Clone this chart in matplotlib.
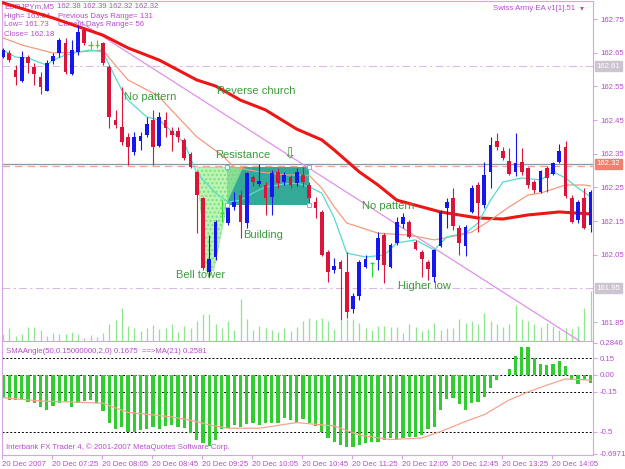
import numpy as np
import matplotlib
matplotlib.use('Agg')
import matplotlib.pyplot as plt
from matplotlib.patches import Polygon, Rectangle

plt.rcParams['font.family'] = ['Liberation Sans', 'DejaVu Sans']

# EURJPYm M5, 20 Dec 2007, bars from 06:45
opens = [162.637, 162.649, 162.599, 162.566, 162.637, 162.607, 162.578, 162.536, 162.625, 162.649,
         162.679, 162.587, 162.652, 162.717, 162.673, 162.673, 162.679, 162.607, 162.450, 162.429,
         162.400, 162.355, 162.388, 162.406, 162.450, 162.373, 162.450, 162.417, 162.417, 162.391,
         162.349, 162.296, 162.218, 161.999, 162.043, 162.174, 162.144, 162.192, 162.227, 162.144,
         162.281, 162.260, 162.257, 162.221, 162.296, 162.266, 162.281, 162.263, 162.287, 162.257,
         162.206, 162.177, 162.058, 162.004, 162.028, 161.999, 161.888, 161.927, 162.013, 162.025,
         162.034, 162.108, 162.013, 162.085, 162.141, 162.147, 162.088, 162.058, 162.028, 161.984,
         162.076, 162.189, 162.218, 162.129, 162.076, 162.177, 162.257, 162.198, 162.296, 162.388,
         162.358, 162.328, 162.296, 162.325, 162.307, 162.266, 162.236, 162.307, 162.290, 162.325,
         162.370, 162.218, 162.153, 162.218, 162.138]
highs = [162.664, 162.658, 162.613, 162.655, 162.643, 162.619, 162.593, 162.628, 162.649, 162.694,
         162.694, 162.688, 162.732, 162.726, 162.685, 162.688, 162.682, 162.613, 162.480, 162.548,
         162.411, 162.414, 162.414, 162.459, 162.480, 162.474, 162.474, 162.429, 162.429, 162.397,
         162.355, 162.299, 162.221, 162.108, 162.153, 162.212, 162.198, 162.236, 162.242, 162.296,
         162.287, 162.319, 162.266, 162.302, 162.307, 162.296, 162.287, 162.307, 162.310, 162.266,
         162.221, 162.183, 162.064, 162.040, 162.034, 162.058, 161.935, 162.034, 162.049, 162.028,
         162.117, 162.114, 162.085, 162.162, 162.174, 162.153, 162.094, 162.064, 162.034, 162.067,
         162.183, 162.218, 162.248, 162.138, 162.138, 162.257, 162.266, 162.325, 162.400, 162.411,
         162.370, 162.367, 162.411, 162.367, 162.310, 162.272, 162.302, 162.313, 162.325, 162.379,
         162.388, 162.227, 162.212, 162.248, 162.242]
lows = [162.634, 162.622, 162.554, 162.563, 162.590, 162.554, 162.527, 162.536, 162.616, 162.637,
        162.587, 162.584, 162.643, 162.673, 162.661, 162.664, 162.613, 162.426, 162.426, 162.376,
        162.316, 162.346, 162.361, 162.400, 162.316, 162.370, 162.400, 162.358, 162.385, 162.331,
        162.307, 162.114, 162.004, 161.984, 162.034, 162.147, 162.138, 162.183, 162.100, 162.129,
        162.254, 162.254, 162.168, 162.168, 162.248, 162.257, 162.248, 162.254, 162.251, 162.203,
        162.159, 162.046, 161.969, 161.996, 161.856, 161.862, 161.877, 161.915, 162.010, 161.984,
        162.004, 161.966, 162.010, 162.079, 162.129, 162.100, 162.064, 161.984, 161.975, 161.969,
        162.073, 162.129, 162.123, 162.049, 162.046, 162.174, 162.117, 162.189, 162.248, 162.361,
        162.331, 162.287, 162.284, 162.287, 162.248, 162.233, 162.233, 162.236, 162.287, 162.322,
        162.218, 162.144, 162.144, 162.126, 162.117]
closes = [162.658, 162.628, 162.578, 162.637, 162.619, 162.587, 162.548, 162.619, 162.640, 162.688,
          162.593, 162.658, 162.711, 162.679, 162.673, 162.673, 162.619, 162.459, 162.435, 162.385,
          162.370, 162.400, 162.403, 162.438, 162.370, 162.459, 162.426, 162.406, 162.400, 162.337,
          162.310, 162.227, 162.010, 162.037, 162.147, 162.174, 162.189, 162.206, 162.147, 162.293,
          162.266, 162.269, 162.218, 162.293, 162.263, 162.287, 162.257, 162.296, 162.266, 162.218,
          162.189, 162.049, 161.999, 162.016, 162.007, 161.880, 161.926, 162.028, 162.037, 162.025,
          162.100, 162.019, 162.079, 162.147, 162.162, 162.103, 162.067, 162.037, 162.007, 162.064,
          162.177, 162.206, 162.135, 162.085, 162.132, 162.248, 162.203, 162.287, 162.376, 162.370,
          162.337, 162.290, 162.322, 162.296, 162.257, 162.242, 162.299, 162.278, 162.322, 162.358,
          162.224, 162.147, 162.206, 162.129, 162.236]
volumes = [21, 39, 15, 21, 42, 42, 33, 15, 24, 21, 21, 27, 21, 9, 18, 12, 24, 51, 63, 99,
           45, 39, 30, 39, 48, 36, 39, 51, 27, 45, 39, 60, 81, 81, 51, 39, 60, 33, 126, 66,
           33, 45, 39, 33, 27, 39, 30, 42, 60, 69, 63, 69, 60, 36, 60, 66, 66, 54, 39, 33,
           45, 45, 42, 42, 24, 51, 42, 30, 36, 54, 33, 39, 39, 66, 54, 60, 51, 84, 60, 51,
           42, 51, 108, 66, 60, 51, 42, 54, 45, 33, 39, 36, 45, 99, 150]

# moving averages on the price chart
slow_x = [0, 8, 16, 20, 25, 31, 34, 38, 42, 47, 51, 53, 57, 60, 63, 67, 70, 73, 76, 80, 84, 89, 94]
slow_y = [162.798, 162.753, 162.702, 162.664, 162.628, 162.569, 162.551, 162.509, 162.480, 162.423,
          162.391, 162.361, 162.296, 162.257, 162.212, 162.192, 162.177, 162.168, 162.159, 162.156,
          162.168, 162.177, 162.171]
mid_x = [0, 3, 8, 12, 16, 17, 20, 24, 25, 31, 35, 37, 41, 45, 49, 51, 53, 55, 60, 65, 69, 73, 75,
         78, 81, 84, 86, 90, 93, 94]
mid_y = [162.694, 162.673, 162.649, 162.652, 162.658, 162.634, 162.569, 162.530, 162.518, 162.400,
         162.346, 162.310, 162.296, 162.287, 162.285, 162.248, 162.192, 162.144, 162.114, 162.108,
         162.094, 162.108, 162.117, 162.153, 162.192, 162.227, 162.233, 162.257, 162.257, 162.254]
fast_x = [0, 2, 4, 7, 8, 10, 12, 14, 16, 17, 19, 20, 23, 25, 29, 31, 34, 36, 38, 40, 42, 45, 47,
          49, 51, 53, 55, 58, 61, 63, 66, 69, 71, 74, 76, 78, 80, 83, 86, 88, 90, 92, 94]
fast_y = [162.658, 162.637, 162.634, 162.613, 162.628, 162.643, 162.652, 162.658, 162.652, 162.613,
          162.539, 162.509, 162.459, 162.450, 162.382, 162.293, 162.233, 162.206, 162.212, 162.233,
          162.251, 162.260, 162.263, 162.251, 162.233, 162.159, 162.055, 162.043, 162.049, 162.085,
          162.094, 162.064, 162.103, 162.114, 162.144, 162.212, 162.266, 162.278, 162.272, 162.296,
          162.278, 162.248, 162.222]
trend_x = [11.84, 94.5]
trend_y = [162.747, 161.767]

# SMAAngle indicator
sma_angle = [-0.20, -0.22, -0.22, -0.22, -0.24, -0.25, -0.28, -0.31, -0.27, -0.25,
             -0.24, -0.28, -0.25, -0.23, -0.22, -0.25, -0.32, -0.42, -0.48, -0.46,
             -0.50, -0.50, -0.49, -0.48, -0.46, -0.48, -0.45, -0.44, -0.46, -0.47,
             -0.51, -0.57, -0.60, -0.63, -0.57, -0.48, -0.47, -0.44, -0.46, -0.43,
             -0.42, -0.44, -0.42, -0.42, -0.42, -0.38, -0.40, -0.42, -0.39, -0.42,
             -0.45, -0.50, -0.56, -0.59, -0.62, -0.635, -0.635, -0.62, -0.60, -0.59,
             -0.59, -0.57, -0.56, -0.57, -0.56, -0.55, -0.55, -0.53, -0.48, -0.46,
             -0.31, -0.21, -0.20, -0.26, -0.31, -0.25, -0.24, -0.19, -0.115, -0.045,
             0.0, 0.05, 0.17, 0.245, 0.245, 0.15, 0.10, 0.09, 0.10, 0.12,
             0.08, -0.04, -0.08, -0.04, -0.07]
ind_ma_x = [0, 6, 12, 16, 20, 27, 30, 33, 36, 41, 47, 53, 57, 62, 67, 70, 74, 77, 81, 84, 87, 90, 94]
ind_ma_y = [-0.20, -0.23, -0.24, -0.25, -0.33, -0.37, -0.40, -0.44, -0.47, -0.47, -0.42, -0.45,
            -0.53, -0.57, -0.556, -0.50, -0.41, -0.35, -0.22, -0.15, -0.09, -0.035, -0.045]

price_ticks = [161.85, 162.05, 162.15, 162.25, 162.35, 162.45, 162.55, 162.65, 162.75]
marked_prices = [162.61, 162.32, 161.95]
ind_ticks = [0.2846, 0.15, 0.0, -0.15, -0.5, -0.6971]
ind_tick_labels = ['0.2846', '0.15', '0.00', '-0.15', '-0.5', '-0.6971']
time_labels = ['20 Dec 2007', '20 Dec 07:25', '20 Dec 08:05', '20 Dec 08:45', '20 Dec 09:25',
               '20 Dec 10:05', '20 Dec 10:45', '20 Dec 11:25', '20 Dec 12:05', '20 Dec 12:45',
               '20 Dec 13:25', '20 Dec 14:05']

frame = '#d8a4e4'
txt = '#b54ccb'
bull = '#1616f2'
bear = '#dc143c'
doji = '#2fd82f'
green_txt = '#3d9a3d'
fs = 5.6

fig = plt.figure(figsize=(6.25, 4.69), dpi=100)
axv = fig.add_axes([0.0032, 0.2729, 0.9456, 0.7249])
ax = fig.add_axes([0.0032, 0.2729, 0.9456, 0.7249], sharex=axv)
ax2 = fig.add_axes([0.0032, 0.0299, 0.9456, 0.2409], sharex=axv)
axv.set_zorder(0)
ax.set_zorder(1)
ax.patch.set_alpha(0)

idx = np.arange(len(opens))
o = np.array(opens); c = np.array(closes)
h = np.array(highs); l = np.array(lows)

# volume at the bottom of price chart
axv.vlines(idx, 0, volumes, color='#8fe68f', lw=0.9)
axv.set_ylim(0, 1020)
axv.axis('off')

# annotation boxes
ax.add_patch(Rectangle((35.84, 162.198), 48.96 - 35.84, 162.310 - 162.198,
                       facecolor='#35a997', edgecolor='none', zorder=1))
ax.add_patch(Polygon([(31.04, 162.310), (38.4, 162.310), (36.0, 162.212), (33.7, 162.002), (32.5, 162.002)],
                     closed=True, facecolor='#a6f29a', edgecolor='#6ed86e', lw=0.4,
                     hatch='....', alpha=0.75, zorder=1.2))
for hx, hy in [(35.84, 162.310), (48.96, 162.310), (35.84, 162.198), (48.96, 162.198)]:
    ax.plot(hx, hy, 's', ms=2.5, mfc='white', mec='#4cc0c0', mew=0.6, zorder=6)

# horizontal levels
ax.axhline(162.61, color='#dcb8e8', lw=0.8, ls=(0, (7, 3, 2, 3)), zorder=1)
ax.axhline(161.95, color='#dcb8e8', lw=0.8, ls=(0, (7, 3, 2, 3)), zorder=1)
ax.axhline(162.319, color='#8a96a6', lw=0.9, zorder=1.5)
ax.axhline(162.313, color='#f4a592', lw=0.9, ls=(0, (6, 4)), zorder=1.5)

# trend line and moving averages
ax.plot(trend_x, trend_y, color='#e090ec', lw=0.9, zorder=2)
ax.plot(slow_x, slow_y, color='#ee1515', lw=2.2, zorder=3)
ax.plot(mid_x, mid_y, color='#f59a7c', lw=0.9, zorder=3)
ax.plot(fast_x, fast_y, color='#52ddd0', lw=0.9, zorder=3)

# candles
up = c > o
dn = c < o
eq = c == o
cols = np.where(up, bull, np.where(dn, bear, doji))
ax.vlines(idx, l, h, colors=cols, lw=0.8, zorder=4)
ax.bar(idx[up], (c - o)[up], bottom=o[up], width=0.62, color=bull, lw=0, zorder=4)
ax.bar(idx[dn], (c - o)[dn], bottom=o[dn], width=0.62, color=bear, lw=0, zorder=4)
ax.hlines(c[eq], idx[eq] - 0.33, idx[eq] + 0.33, colors=doji, lw=0.9, zorder=4)

# pattern labels
notes = [(19.4, 162.518, 'No pattern'), (34.2, 162.536, 'Reverse church'),
         (33.9, 162.346, 'Resistance'), (38.4, 162.108, 'Building'),
         (27.7, 161.990, 'Bell tower'), (57.4, 162.195, 'No pattern'),
         (63.2, 161.957, 'Higher low')]
for nx, ny, s in notes:
    ax.text(nx, ny, s, color=green_txt, fontsize=8, ha='left', va='center', zorder=5)
ax.text(45.8, 162.349, '\u21e9', color=green_txt, fontsize=10.5, ha='center', va='center',
        family='DejaVu Sans', zorder=5)

# info text in the corner
def ftxt(px, py, s, **kw):
    ax.text(px / 625, 1 - py / 469, s, transform=fig.transFigure, fontsize=fs,
            color=txt, va='center', zorder=0.5, **kw)

ftxt(4, 7, 'EURJPYm,M5')
ftxt(57, 7, '162.38 162.39 162.32 162.32')
ftxt(4, 16, 'High= 163.04')
ftxt(58, 16, 'Previous Days Range= 131')
ftxt(4, 25, 'Low= 161.73')
ftxt(58, 25, 'Current Days Range= 56')
ftxt(4, 34, 'Close= 162.18')
ftxt(575, 8, 'Swiss Army EA v1[1].51', ha='right')
ftxt(580, 8, '\u25be', family='DejaVu Sans')

ax.set_xlim(-0.16, 94.4)
ax.set_ylim(161.7936, 162.8034)
ax.yaxis.tick_right()
ax.set_yticks(price_ticks)
ax.set_yticklabels([f'{v:.2f}' for v in price_ticks])
ax.tick_params(axis='y', colors=frame, labelcolor=txt, labelsize=fs, length=3, pad=2)
ax.tick_params(axis='x', length=0, labelbottom=False)
for sp in ax.spines.values():
    sp.set_color(frame)

# marked prices on the right scale
for val, fc in zip(marked_prices, ['#ccc4d0', '#f08070', '#ccc4d0']):
    ax.text(1.006, val, f'{val:.2f}', transform=ax.get_yaxis_transform(), fontsize=fs,
            color='white', ha='left', va='center', clip_on=False, zorder=7,
            bbox=dict(boxstyle='square,pad=0.2', fc=fc, ec=fc))

# indicator panel
for lv in [0.15, 0.0, -0.15, -0.5]:
    ax2.axhline(lv, color='black', lw=0.7, ls=(0, (2, 2)), zorder=0.5)
ax2.bar(idx, sma_angle, width=0.5, color='#30cc30', lw=0, zorder=2)
ax2.plot(ind_ma_x, ind_ma_y, color='#f7a48c', lw=0.9, zorder=3)
ax2.set_ylim(-0.7061, 0.2913)
ax2.yaxis.tick_right()
ax2.set_yticks(ind_ticks)
ax2.set_yticklabels(ind_tick_labels)
ax2.tick_params(axis='y', colors=frame, labelcolor=txt, labelsize=fs, length=3, pad=2)
ax2.set_xticks([-0.16 + 8 * k for k in range(len(time_labels))])
ax2.set_xticklabels(time_labels, ha='left')
ax2.tick_params(axis='x', colors=frame, labelcolor=txt, labelsize=fs, length=3, pad=1.5)
for sp in ax2.spines.values():
    sp.set_color(frame)
ax2.spines['top'].set_visible(False)
ax2.text(4 / 591, 0.92, 'SMAAngle(50,0.15000000,2,0) 0.1675  ==>MA(21) 0.2581',
         transform=ax2.transAxes, fontsize=fs, color=txt, va='center', zorder=4)
ax2.text(4 / 591, 0.07, 'Interbank FX Trader 4, \u00a9 2001-2007 MetaQuotes Software Corp.',
         transform=ax2.transAxes, fontsize=fs, color=txt, va='center', zorder=1)

fig.savefig('out.png', dpi=100, facecolor='white')
